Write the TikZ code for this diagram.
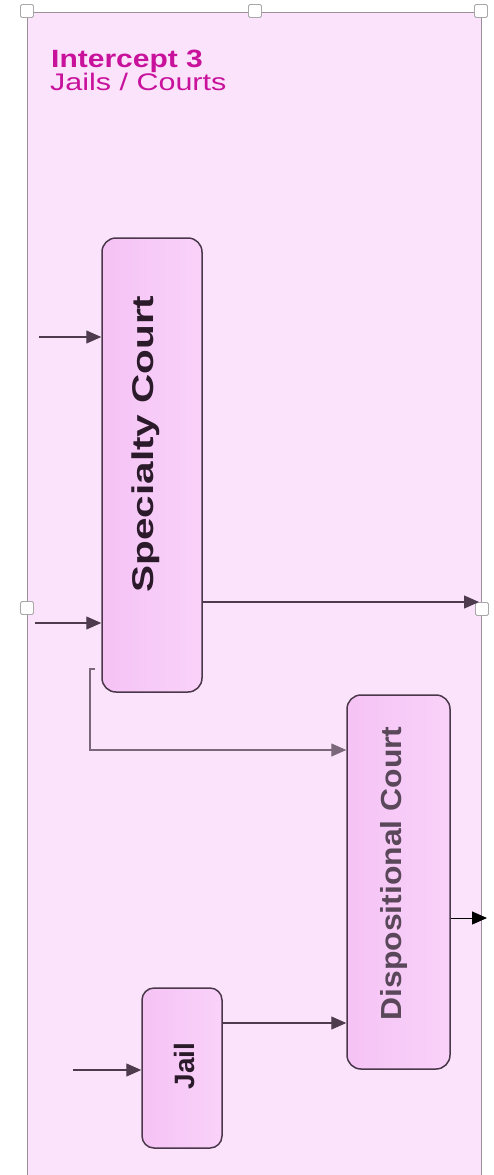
\documentclass[tikz,border=0pt]{standalone}
\usepackage{fontspec}
\setmainfont{Liberation Sans}
\usetikzlibrary{arrows.meta}
\definecolor{panel}{HTML}{FBE4FB}
\definecolor{panelline}{HTML}{9A909A}
\definecolor{boxline}{HTML}{4A384A}
\definecolor{boxfill}{HTML}{F5C3F5}
\definecolor{boxfill2}{HTML}{F9D2F9}
\definecolor{arrowc}{HTML}{4E3C4E}
\definecolor{lightarrow}{HTML}{7A687A}
\definecolor{titlec}{HTML}{C8129C}
\definecolor{handle}{HTML}{A8A8A8}
\definecolor{disptext}{HTML}{5A485A}
\definecolor{darktext}{HTML}{2A1A2A}
\begin{document}
\begin{tikzpicture}[x=1pt,y=-1pt,
  court/.style={draw=boxline, line width=1.5pt, rounded corners=14pt, left color=boxfill, right color=boxfill2, inner sep=0pt},
  flow/.style={draw=arrowc, line width=1.3pt, -{Triangle[length=15pt,width=13pt]}},
  handlebox/.style={draw=handle, fill=white, line width=0.9pt, minimum size=13pt, inner sep=0pt, rounded corners=1.5pt},
  lbl/.style={inner sep=0pt, font=\bfseries}
]
\useasboundingbox (0,0) rectangle (493,1175);
\fill[white] (0,0) rectangle (493,1175);
\begin{scope}
\clip (0,0) rectangle (493,1175);
\draw[panelline, fill=panel, line width=1pt] (27,12) rectangle (481,1200);
\end{scope}

% handles
\node[handlebox] (h1) at (27,11) {};
\node[handlebox] (h2) at (255,11) {};
\node[handlebox] (h3) at (481,11) {};
\node[handlebox] (h4) at (27,608) {};
\node[handlebox] (h5) at (482,609) {};

% title
\node[anchor=base west, text=titlec, inner sep=0pt, font=\bfseries\fontsize{25}{25}\selectfont] (t1) at (51,67) {\scalebox{1.2}[1]{Intercept 3}};
\node[anchor=base west, text=titlec, inner sep=0pt, font=\fontsize{24}{24}\selectfont] (t2) at (50,90) {\scalebox{1.27}[1]{Jails / Courts}};

% boxes
\node[court, minimum width=100pt, minimum height=454pt] (spec) at (152,465) {};
\node[court, minimum width=103pt, minimum height=374pt] (disp) at (398.5,882) {};
\node[court, rounded corners=12pt, minimum width=80pt, minimum height=160pt] (jail) at (182,1068) {};

% labels
\node[lbl, rotate=90, text=darktext] (spect) at (145.5,444) {\scalebox{1.35}[1]{\fontsize{30}{30}\selectfont Specialty Court}};
\node[lbl, rotate=90, text=disptext] (dispt) at (393.5,873.5) {\scalebox{1.1}[1]{\fontsize{29}{29}\selectfont Dispositional Court}};
\node[lbl, rotate=90, text=darktext] (jailt) at (184,1066) {\fontsize{28}{28}\selectfont Jail};

% connector ends
\coordinate (in1) at (39,337);
\coordinate (in2) at (35,623);
\coordinate (out1) at (479,602);
\coordinate (s0) at (95,669);
\coordinate (s1) at (90,669);
\coordinate (s2) at (90,750);
\coordinate (out2) at (487,918);
\coordinate (in3) at (73,1070);

\draw[flow] (in1) -- (in1 -| spec.west);
\draw[flow] (in2) -- (in2 -| spec.west);
\draw[flow] (spec.east |- out1) -- (out1);
\draw[flow, draw=lightarrow] (s0) -- (s1) -- (s2) -- (s2 -| disp.west);
\draw[flow, draw=black, line width=1pt] (disp.east |- out2) -- (out2);
\draw[flow] (jail.east |- 0,1023) -- (disp.west |- 0,1023);
\draw[flow] (in3) -- (in3 -| jail.west);
\end{tikzpicture}
\end{document}
